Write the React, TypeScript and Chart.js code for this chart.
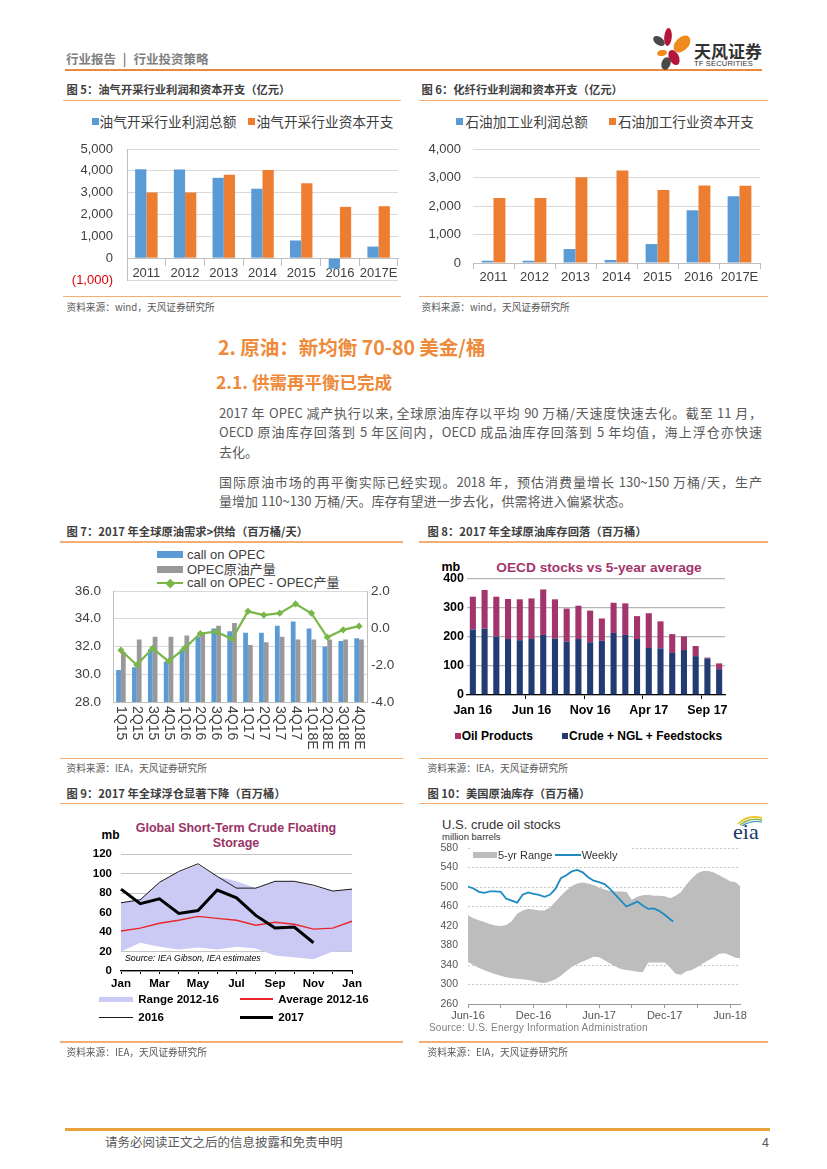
import React, { useEffect, useRef } from 'react';
import { Chart, registerables } from 'chart.js';
Chart.register(...registerables);

const FONT = "'Liberation Sans', 'Noto Sans CJK SC', sans-serif";
const CJK = "'Noto Sans CJK SC', 'Liberation Sans', sans-serif";
Chart.defaults.font.family = FONT;

// ---------- Fig 5 ----------
const years = ['2011', '2012', '2013', '2014', '2015', '2016', '2017E'];
const fig5Legend = ['油气开采行业利润总额', '油气开采行业资本开支'];
const fig5Profit = [4070, 4060, 3680, 3180, 810, -480, 530];
const fig5Capex = [3010, 3010, 3820, 4040, 3430, 2350, 2380];

// ---------- Fig 6 ----------
const fig6Legend = ['石油加工业利润总额', '石油加工行业资本开支'];
const fig6Profit = [80, 80, 490, 105, 665, 1850, 2340];
const fig6Capex = [2280, 2280, 3010, 3250, 2560, 2715, 2710];

// ---------- Fig 7 ----------
const quarters = ['1Q15', '2Q15', '3Q15', '4Q15', '1Q16', '2Q16', '3Q16', '4Q16', '1Q17', '2Q17', '3Q17', '4Q17', '1Q18E', '2Q18E', '3Q18E', '4Q18E'];
const fig7Legend = ['call on OPEC', 'OPEC原油产量', 'call on OPEC - OPEC产量'];
const callOnOpec = [30.3, 30.5, 31.8, 30.9, 31.8, 32.7, 33.3, 33.1, 33.0, 33.0, 33.5, 33.8, 33.3, 32.0, 32.4, 32.6];
const opecOutput = [31.6, 32.5, 32.7, 32.7, 32.8, 32.9, 33.5, 33.7, 32.1, 32.3, 32.7, 32.5, 32.5, 32.5, 32.5, 32.5];
const callMinusOutput = [-1.2, -2.0, -1.1, -1.8, -1.1, -0.3, -0.2, -0.6, 0.9, 0.7, 0.8, 1.3, 0.8, -0.5, -0.1, 0.1];

// ---------- Fig 8 ----------
const months8 = ['Jan 16', 'Feb 16', 'Mar 16', 'Apr 16', 'May 16', 'Jun 16', 'Jul 16', 'Aug 16', 'Sep 16', 'Oct 16', 'Nov 16', 'Dec 16',
  'Jan 17', 'Feb 17', 'Mar 17', 'Apr 17', 'May 17', 'Jun 17', 'Jul 17', 'Aug 17', 'Sep 17', 'Oct 17'];
const fig8Legend = ['Oil Products', 'Crude + NGL + Feedstocks'];
const crude8 = [226, 229, 201, 193, 189, 193, 207, 195, 184, 193, 182, 187, 214, 207, 193, 162, 161, 145, 155, 134, 126, 89];
const products8 = [113, 133, 138, 138, 141, 140, 157, 135, 114, 115, 109, 77, 104, 109, 79, 120, 93, 65, 47, 35, 3, 20];

// ---------- Fig 9 ----------
const months9 = ['Jan', 'Feb', 'Mar', 'Apr', 'May', 'Jun', 'Jul', 'Aug', 'Sep', 'Oct', 'Nov', 'Dec', 'Jan'];
const fig9Legend = ['Range 2012-16', 'Average 2012-16', '2016', '2017'];
const rangeHigh9 = [70, 74, 91, 101, 109, 97, 92, 85, 92, 92, 87, 82, 84];
const rangeLow9 = [20, 29, 25, 22, 24, 22, 25, 23, 16, 14, 12, 20, 20];
const average9 = [41, 44, 49, 52, 56, 54, 52, 47, 50, 48, 43, 44, 51];
const y2016 = [70, 73, 91, 102, 110, 97, 85, 85, 92, 92, 88, 82, 84];
const y2017 = [84, 69, 74, 59, 62, 83, 75, 57, 44, 45, 29];

// ---------- Fig 10 ----------
const x10TickLabels = ['Jun-16', 'Dec-16', 'Jun-17', 'Dec-17', 'Jun-18'];
const fig10Legend = ['5-yr Range', 'Weekly'];
// months after Jun-16
const x10 = [0, 0.5, 1, 1.5, 2, 2.5, 3, 3.5, 4, 4.5, 5, 5.5, 6, 6.5, 7, 7.5, 8, 8.5, 9, 9.5, 10, 10.5, 11, 11.5, 12, 12.5,
  13, 13.5, 14, 14.5, 15, 15.5, 16, 16.5, 17, 17.5, 18, 18.5, 19, 19.5, 20, 20.5, 21, 21.5, 22, 22.5, 23, 23.5, 24, 24.5, 24.9];
const rangeHigh10 = [442, 436, 432, 428, 424, 421, 420, 422, 430, 445, 452, 455, 454, 452, 452, 458, 470, 482, 493, 502,
  507, 509, 507, 504, 499, 495, 492, 491, 491, 490, 474, 480, 483, 484, 482, 482, 481, 477, 482, 490,
  505, 518, 528, 533, 533, 530, 524, 518, 512, 510, 502];
const rangeLow10 = [346, 340, 334, 329, 325, 321, 318, 315, 313, 312, 311, 309, 307, 304, 303, 306, 311, 318, 327, 336,
  342, 347, 352, 357, 356, 350, 343, 337, 332, 330, 328, 326, 325, 345, 345, 345, 345, 335, 322, 320,
  327, 330, 336, 343, 350, 356, 363, 364, 360, 355, 354];
const weeklyX10 = [0, 0.5, 1, 1.5, 2, 2.5, 3, 3.5, 4, 4.5, 5, 5.5, 6, 6.5, 7, 7.5, 8, 8.5, 9, 9.5, 10, 10.5, 11, 11.5, 12,
  12.5, 13, 13.5, 14, 14.5, 15, 15.5, 16, 16.5, 17, 17.5, 18, 18.5, 18.8];
const weekly10 = [501, 497, 490, 488, 491, 491, 490, 476, 472, 468, 484, 489, 486, 484, 480, 484, 496, 518, 524, 532,
  535, 530, 520, 513, 510, 506, 496, 484, 472, 460, 465, 470, 462, 455, 456, 451, 443, 434, 429];

// ---------- helpers ----------
const base = (padding: any) => ({
  animation: false,
  responsive: false,
  maintainAspectRatio: false,
  events: [],
  layout: { padding, autoPadding: false },
  plugins: { legend: { display: false }, tooltip: { enabled: false }, title: { display: false } },
});

// fix an axis size and drop the automatic label overhang padding
const fixW = (w: number) => (s: any) => { s.width = w; s.paddingTop = 0; s.paddingBottom = 0; };
const fixH = (h: number) => (s: any) => { s.height = h; s.paddingLeft = 0; s.paddingRight = 0; };
const noPadX = (s: any) => { s.paddingLeft = 0; s.paddingRight = 0; };

function ChartCanvas({ x, y, w, h, make }: { x: number; y: number; w: number; h: number; make: () => any }) {
  const ref = useRef<HTMLCanvasElement | null>(null);
  useEffect(() => {
    if (!ref.current) return;
    const chart = new Chart(ref.current, make());
    return () => chart.destroy();
  }, []);
  return <canvas ref={ref} width={w} height={h} style={{ position: 'absolute', left: x, top: y, width: w, height: h }} />;
}

function T({ x, y, s, c = '#404040', w = 'normal', f = CJK, children, style = {} }: any) {
  const lh = Math.round(s * 1.5);
  return (
    <div style={{ position: 'absolute', left: x, top: y - lh / 2, fontSize: s, lineHeight: lh + 'px', color: c, fontWeight: w, fontFamily: f, whiteSpace: 'nowrap', ...style }}>
      {children}
    </div>
  );
}
function HL({ x1, x2, y, c, t = 1 }: any) {
  return <div style={{ position: 'absolute', left: x1, top: y - t / 2, width: x2 - x1, height: t, background: c }} />;
}
function Box({ x, y, w, h, c }: any) {
  return <div style={{ position: 'absolute', left: x, top: y - h / 2, width: w, height: h, background: c }} />;
}

const fmtThousands = (v: number) => {
  const s = Math.abs(v).toLocaleString('en-US');
  return v < 0 ? `(${s})` : s;
};

// ---------- chart configs ----------
const makeFig5 = () => ({
  type: 'bar',
  data: {
    labels: years,
    datasets: [
      { label: fig5Legend[0], data: fig5Profit, backgroundColor: '#5B9BD5', categoryPercentage: 0.58, barPercentage: 1 },
      { label: fig5Legend[1], data: fig5Capex, backgroundColor: '#ED7D31', categoryPercentage: 0.58, barPercentage: 1 },
    ],
  },
  options: {
    ...base({ top: 9, right: 7, bottom: 8, left: 0 }),
    scales: {
      x: {
        position: { y: 0 },
        grid: { drawOnChartArea: false, drawTicks: true, tickLength: 7, color: '#BFBFBF', offset: true },
        border: { color: '#BFBFBF' },
        ticks: { font: { size: 13 }, color: '#404040', padding: 0, maxRotation: 0, autoSkip: false },
        afterFit: noPadX,
      },
      y: {
        min: -1000, max: 5000,
        ticks: {
          stepSize: 1000, padding: 14, font: { size: 13 },
          color: (ctx: any) => (ctx.tick && ctx.tick.value < 0 ? '#E00000' : '#404040'),
          callback: (v: any) => fmtThousands(Number(v)),
        },
        grid: { color: '#D9D9D9', drawTicks: false },
        border: { color: '#BFBFBF' },
        afterFit: fixW(62),
      },
    },
  },
});

const makeFig6 = () => ({
  type: 'bar',
  data: {
    labels: years,
    datasets: [
      { label: fig6Legend[0], data: fig6Profit, backgroundColor: '#5B9BD5', categoryPercentage: 0.58, barPercentage: 1 },
      { label: fig6Legend[1], data: fig6Capex, backgroundColor: '#ED7D31', categoryPercentage: 0.58, barPercentage: 1 },
    ],
  },
  options: {
    ...base({ top: 9, right: 5, bottom: 0, left: 0 }),
    scales: {
      x: {
        grid: { drawOnChartArea: false, drawTicks: true, tickLength: 6, color: '#BFBFBF', offset: true },
        border: { color: '#BFBFBF' },
        ticks: { font: { size: 13 }, color: '#404040', padding: 1, maxRotation: 0, autoSkip: false },
        afterFit: fixH(30),
      },
      y: {
        min: 0, max: 4000,
        ticks: { stepSize: 1000, padding: 12, font: { size: 13 }, color: '#404040', callback: (v: any) => fmtThousands(Number(v)) },
        grid: { color: '#D9D9D9', drawTicks: false },
        border: { display: false },
        afterFit: fixW(53),
      },
    },
  },
});

const rotLabels7 = {
  id: 'rotLabels7',
  afterDraw(chart: any) {
    const { ctx, chartArea } = chart;
    const xs = chart.scales.x;
    ctx.save();
    ctx.font = `14px ${FONT}`;
    ctx.fillStyle = '#404040';
    ctx.textAlign = 'left';
    ctx.textBaseline = 'middle';
    quarters.forEach((q, i) => {
      const px = xs.getPixelForValue(i);
      ctx.save();
      ctx.translate(px, chartArea.bottom + 4);
      ctx.rotate(Math.PI / 2);
      ctx.fillText(q, 0, 0);
      ctx.restore();
    });
    ctx.restore();
  },
};

const makeFig7 = () => ({
  type: 'bar',
  data: {
    labels: quarters,
    datasets: [
      { type: 'line', label: fig7Legend[2], data: callMinusOutput, yAxisID: 'y2', borderColor: '#7AB648', backgroundColor: '#7AB648', borderWidth: 2.2, pointStyle: 'rectRot', pointRadius: 3.6, pointBackgroundColor: '#7AB648', pointBorderWidth: 0, order: 0 },
      { label: fig7Legend[0], data: callOnOpec, yAxisID: 'y', backgroundColor: '#5B9BD5', categoryPercentage: 0.6, barPercentage: 1, order: 1 },
      { label: fig7Legend[1], data: opecOutput, yAxisID: 'y', backgroundColor: '#999999', categoryPercentage: 0.6, barPercentage: 1, order: 1 },
    ],
  },
  plugins: [rotLabels7],
  options: {
    ...base({ top: 10, right: 0, bottom: 0, left: 0 }),
    scales: {
      x: {
        grid: { drawOnChartArea: false, drawTicks: false },
        border: { color: '#BFBFBF' },
        ticks: { display: false },
        afterFit: fixH(48),
      },
      y: {
        position: 'left', min: 28, max: 36,
        ticks: { stepSize: 2, padding: 12, font: { size: 13.5 }, color: '#404040', callback: (v: any) => Number(v).toFixed(1) },
        grid: { color: '#D9D9D9', drawTicks: false },
        border: { color: '#BFBFBF' },
        afterFit: fixW(53),
      },
      y2: {
        position: 'right', min: -4, max: 2,
        ticks: { stepSize: 2, padding: 4, font: { size: 13.5 }, color: '#404040', callback: (v: any) => Number(v).toFixed(1) },
        grid: { drawOnChartArea: false, drawTicks: false },
        border: { color: '#BFBFBF' },
        afterFit: fixW(33),
      },
    },
  },
});

const makeFig8 = () => ({
  type: 'bar',
  data: {
    labels: months8,
    datasets: [
      { label: fig8Legend[1], data: crude8, backgroundColor: '#233B73', categoryPercentage: 0.52, barPercentage: 1 },
      { label: fig8Legend[0], data: products8, backgroundColor: '#A3356C', categoryPercentage: 0.52, barPercentage: 1 },
    ],
  },
  options: {
    ...base({ top: 9, right: 5, bottom: 0, left: 0 }),
    scales: {
      x: {
        stacked: true,
        grid: {
          drawOnChartArea: false, drawTicks: true, tickLength: 4, offset: true,
          color: (ctx: any) => (ctx.index % 5 === 0 && ctx.index > 0 ? '#000' : 'rgba(0,0,0,0)'),
        },
        border: { color: '#000', width: 1.3 },
        ticks: {
          autoSkip: false, maxRotation: 0, padding: 4, font: { size: 12.5, weight: 'bold' }, color: '#000',
          callback: function (this: any, v: any, i: number) { return i % 5 === 0 ? months8[i] : ''; },
        },
        afterFit: fixH(25),
      },
      y: {
        stacked: true, min: 0, max: 400,
        ticks: { stepSize: 100, padding: 3, font: { size: 12.5, weight: 'bold' }, color: '#000' },
        grid: { color: '#B5B5B5', lineWidth: 1.3, drawTicks: false },
        border: { display: false },
        afterFit: fixW(42),
      },
    },
  },
});

const makeFig9 = () => ({
  type: 'line',
  data: {
    labels: months9,
    datasets: [
      { label: fig9Legend[0], data: rangeHigh9, borderWidth: 0, pointRadius: 0, fill: '+1', backgroundColor: '#CACAF4', borderColor: 'rgba(0,0,0,0)', tension: 0, order: 3 },
      { label: 'low', data: rangeLow9, borderWidth: 0, pointRadius: 0, fill: false, borderColor: 'rgba(0,0,0,0)', order: 3 },
      { label: fig9Legend[1], data: average9, borderWidth: 1.4, pointRadius: 0, borderColor: '#E8262A', fill: false, order: 2 },
      { label: fig9Legend[2], data: y2016, borderWidth: 1, pointRadius: 0, borderColor: '#1A1A1A', fill: false, order: 1 },
      { label: fig9Legend[3], data: y2017, borderWidth: 3, pointRadius: 0, borderColor: '#000', fill: false, order: 0 },
    ],
  },
  options: {
    ...base({ top: 8, right: 13, bottom: 0, left: 0 }),
    scales: {
      x: {
        offset: false,
        grid: { drawOnChartArea: false, drawTicks: true, tickLength: 3, color: '#000' },
        border: { color: '#000', width: 1.2 },
        ticks: {
          autoSkip: false, maxRotation: 0, padding: 3, font: { size: 11.5, weight: 'bold' }, color: '#000',
          callback: function (this: any, v: any, i: number) { return i % 2 === 0 ? months9[i] : ''; },
        },
        afterFit: fixH(22),
      },
      y: {
        min: 0, max: 120,
        ticks: { stepSize: 20, padding: 9, font: { size: 11.5, weight: 'bold' }, color: '#000' },
        grid: { color: '#C4C4C4', drawTicks: false },
        border: { display: false },
        afterFit: fixW(53),
      },
    },
  },
});

const makeFig10 = () => ({
  type: 'line',
  data: {
    datasets: [
      { label: fig10Legend[0], data: x10.map((x, i) => ({ x, y: rangeHigh10[i] })), borderWidth: 0, pointRadius: 0, fill: '+1', backgroundColor: '#BDBDBD', borderColor: 'rgba(0,0,0,0)', order: 2 },
      { label: 'low', data: x10.map((x, i) => ({ x, y: rangeLow10[i] })), borderWidth: 0, pointRadius: 0, fill: false, borderColor: 'rgba(0,0,0,0)', order: 2 },
      { label: fig10Legend[1], data: weeklyX10.map((x, i) => ({ x, y: weekly10[i] })), borderWidth: 1.8, pointRadius: 0, borderColor: '#1E8BC3', fill: false, order: 0 },
    ],
  },
  options: {
    ...base({ top: 8, right: 12, bottom: 0, left: 0 }),
    scales: {
      x: {
        type: 'linear', min: 0, max: 24.9,
        grid: { drawOnChartArea: false, drawTicks: true, tickLength: 4, color: '#999' },
        border: { color: '#999' },
        ticks: {
          stepSize: 3, includeBounds: false, autoSkip: false, maxRotation: 0, padding: 1, font: { size: 11 }, color: '#555',
          callback: (v: any) => { const n = Number(v); return Math.abs(n % 6) < 1e-6 ? x10TickLabels[Math.round(n / 6)] || '' : ''; },
        },
        afterFit: fixH(20),
      },
      y: {
        min: 260, max: 580,
        ticks: { stepSize: 40, padding: 10, font: { size: 10.5 }, color: '#555' },
        grid: { color: '#C8C8C8', drawTicks: false },
        border: { display: false, dash: [2, 2] },
        afterFit: fixW(43),
      },
    },
  },
});

// ---------- page ----------
const ORANGE_LINE = '#F2AE74';
const SRC_C = '#595959';

export default function App() {
  return (
    <div style={{ position: 'absolute', left: 0, top: 0, width: 827, height: 1169, background: '#fff', overflow: 'hidden', fontFamily: CJK }}>
      {/* header */}
      <T x={66} y={58.5} s={12.5} c="#7F7F7F" w="bold" style={{ wordSpacing: 4 }}>行业报告 | 行业投资策略</T>
      <HL x1={65} x2={762} y={69.5} c="#E9893B" t={2} />
      <svg style={{ position: 'absolute', left: 645, top: 24 }} width={50} height={50} viewBox="645 24 50 50">
        <ellipse cx={659} cy={41} rx={6.5} ry={4} transform="rotate(35 659 41)" fill="#4A4A4A" />
        <ellipse cx={668} cy={37} rx={3.8} ry={9} transform="rotate(5 668 37)" fill="#B5173B" />
        <ellipse cx={682} cy={44} rx={10} ry={6.5} transform="rotate(-45 682 44)" fill="#F08A1C" />
        <ellipse cx={662} cy={53} rx={5} ry={3} transform="rotate(-10 662 53)" fill="#F08A1C" />
        <ellipse cx={674} cy={57.5} rx={5} ry={8} transform="rotate(-25 674 57.5)" fill="#B5173B" />
        <ellipse cx={666} cy={63.5} rx={4.5} ry={6.5} transform="rotate(20 666 63.5)" fill="#4A4A4A" />
      </svg>
      <T x={694} y={51} s={17} c="#333" w="bold">天风证券</T>
      <T x={694} y={63.5} s={7.5} c="#333" f={FONT} style={{ letterSpacing: 0.2 }}>TF SECURITIES</T>

      {/* Fig 5 */}
      <T x={66.5} y={89.7} s={11.3} w="bold">图 5：油气开采行业利润和资本开支（亿元）</T>
      <HL x1={63} x2={401} y={100.7} c={ORANGE_LINE} t={1.5} />
      <Box x={91.7} y={121.3} w={7} h={7} c="#5B9BD5" />
      <T x={99.5} y={121.3} s={13.7} c="#404040">{fig5Legend[0]}</T>
      <Box x={248} y={121.3} w={7} h={7} c="#ED7D31" />
      <T x={256.5} y={121.3} s={13.7} c="#404040">{fig5Legend[1]}</T>
      <ChartCanvas x={65} y={140} w={340} h={148} make={makeFig5} />
      <HL x1={63} x2={401} y={296.3} c={ORANGE_LINE} t={1.5} />
      <T x={66.5} y={307.3} s={9.7} c={SRC_C}>资料来源：wind，天风证券研究所</T>

      {/* Fig 6 */}
      <T x={421.5} y={89.7} s={11.3} w="bold">图 6：化纤行业利润和资本开支（亿元）</T>
      <HL x1={419} x2={768} y={100.7} c={ORANGE_LINE} t={1.5} />
      <Box x={455.7} y={121.3} w={7} h={7} c="#5B9BD5" />
      <T x={465.5} y={121.3} s={13.6} c="#404040">{fig6Legend[0]}</T>
      <Box x={609} y={121.3} w={7} h={7} c="#ED7D31" />
      <T x={618} y={121.3} s={13.6} c="#404040">{fig6Legend[1]}</T>
      <ChartCanvas x={420} y={140} w={345} h={153} make={makeFig6} />
      <HL x1={419} x2={768} y={296.3} c={ORANGE_LINE} t={1.5} />
      <T x={421.5} y={307.3} s={9.7} c={SRC_C}>资料来源：wind，天风证券研究所</T>

      {/* Section text */}
      <T x={218} y={346} s={19.5} c="#EE8A3A" w="bold">2. 原油：新均衡 70-80 美金/桶</T>
      <T x={216} y={381.7} s={17.5} c="#EE8A3A" w="bold">2.1. 供需再平衡已完成</T>
      {[
        ['2017 年 OPEC 减产执行以来, 全球原油库存以平均 90 万桶/天速度快速去化。截至 11 月，', 413.3, true],
        ['OECD 原油库存回落到 5 年区间内，OECD 成品油库存回落到 5 年均值，海上浮仓亦快速', 432.3, true],
        ['去化。', 451.7, false],
        ['国际原油市场的再平衡实际已经实现。2018 年，预估消费量增长 130~150 万桶/天，生产', 481.7, true],
        ['量增加 110~130 万桶/天。库存有望进一步去化，供需将进入偏紧状态。', 500.5, false],
      ].map(([txt, cy, just], i) => (
        <div key={i} style={{
          position: 'absolute', left: 219, top: (cy as number) - 10, width: 543, height: 20, lineHeight: '20px',
          fontSize: 13, color: '#595959', fontFamily: CJK, whiteSpace: 'nowrap',
          textAlign: just ? 'justify' : 'left', textAlignLast: just ? 'justify' : 'left',
        } as any}>{txt as string}</div>
      ))}

      {/* Fig 7 */}
      <T x={66.5} y={531.3} s={11.3} w="bold">图 7：2017 年全球原油需求&gt;供给（百万桶/天）</T>
      <HL x1={60} x2={403} y={542} c={ORANGE_LINE} t={1.5} />
      <Box x={157} y={554.7} w={26} h={7} c="#5B9BD5" />
      <T x={187} y={554.7} s={13} c="#404040" f={FONT}>{fig7Legend[0]}</T>
      <Box x={157} y={569.7} w={26} h={7} c="#999999" />
      <T x={187} y={569.7} s={13} c="#404040" f={FONT}>{fig7Legend[1]}</T>
      <Box x={157} y={583.3} w={26} h={2.2} c="#7AB648" />
      <div style={{ position: 'absolute', left: 170 - 3.3, top: 583.3 - 3.3, width: 6.6, height: 6.6, background: '#7AB648', transform: 'rotate(45deg)' }} />
      <T x={187} y={583.3} s={13} c="#404040" f={FONT}>{fig7Legend[2]}</T>
      <ChartCanvas x={60} y={581} w={340} h={169} make={makeFig7} />
      <HL x1={60} x2={403} y={758.7} c={ORANGE_LINE} t={1.5} />
      <T x={66.5} y={768.7} s={9.7} c={SRC_C}>资料来源：IEA，天风证券研究所</T>

      {/* Fig 8 */}
      <T x={427.5} y={531.3} s={11.3} w="bold">图 8：2017 年全球原油库存回落（百万桶）</T>
      <HL x1={419} x2={768} y={542} c={ORANGE_LINE} t={1.5} />
      <T x={441.5} y={567.3} s={12.5} c="#000" w="bold" f={FONT}>mb</T>
      <T x={599} y={567.3} s={13.7} c="#A3356C" w="bold" f={FONT} style={{ transform: 'translateX(-50%)' }}>OECD stocks vs 5-year average</T>
      <ChartCanvas x={425} y={570} w={305} h={150} make={makeFig8} />
      <Box x={455} y={736} w={6} h={6} c="#A3356C" />
      <T x={461.7} y={736} s={12} c="#000" w="bold" f={FONT}>{fig8Legend[0]}</T>
      <Box x={561.7} y={736} w={6} h={6} c="#233B73" />
      <T x={569} y={736} s={12} c="#000" w="bold" f={FONT}>{fig8Legend[1]}</T>
      <HL x1={419} x2={768} y={758.7} c={ORANGE_LINE} t={1.5} />
      <T x={427.5} y={768.7} s={9.7} c={SRC_C}>资料来源：IEA，天风证券研究所</T>

      {/* Fig 9 */}
      <T x={66.5} y={793} s={11.3} w="bold">图 9：2017 年全球浮仓显著下降（百万桶）</T>
      <HL x1={60} x2={403} y={803.7} c={ORANGE_LINE} t={1.5} />
      <T x={236} y={828.7} s={12.5} c="#993366" w="bold" f={FONT} style={{ transform: 'translateX(-50%)' }}>Global Short-Term Crude Floating</T>
      <T x={236} y={843.7} s={12.5} c="#993366" w="bold" f={FONT} style={{ transform: 'translateX(-50%)' }}>Storage</T>
      <T x={101.5} y={835.3} s={12} c="#000" w="bold" f={FONT}>mb</T>
      <ChartCanvas x={68} y={846} w={297} h={147} make={makeFig9} />
      <T x={125} y={958} s={8.8} c="#000" f={FONT} style={{ fontStyle: 'italic' }}>Source: IEA Gibson, IEA estimates</T>
      <Box x={99.3} y={999.3} w={34} h={5} c="#CACAF4" />
      <T x={138.3} y={999.3} s={11.5} c="#000" w="bold" f={FONT}>{fig9Legend[0]}</T>
      <Box x={240} y={999} w={33.3} h={2} c="#E8262A" />
      <T x={278.3} y={999.3} s={11.5} c="#000" w="bold" f={FONT}>{fig9Legend[1]}</T>
      <Box x={99.3} y={1017} w={34} h={1} c="#1A1A1A" />
      <T x={138.3} y={1017} s={11.5} c="#000" w="bold" f={FONT}>{fig9Legend[2]}</T>
      <Box x={240} y={1017} w={33.3} h={3} c="#000" />
      <T x={278.3} y={1017} s={11.5} c="#000" w="bold" f={FONT}>{fig9Legend[3]}</T>
      <HL x1={60} x2={403} y={1042} c={ORANGE_LINE} t={1.5} />
      <T x={66.5} y={1052.3} s={9.7} c={SRC_C}>资料来源：IEA，天风证券研究所</T>

      {/* Fig 10 */}
      <T x={427.5} y={793} s={11.3} w="bold">图 10：美国原油库存（百万桶）</T>
      <HL x1={419} x2={768} y={803.7} c={ORANGE_LINE} t={1.5} />
      <T x={442} y={825} s={13} c="#333" f={FONT}>U.S. crude oil stocks</T>
      <T x={442} y={836.5} s={9.5} c="#333" f={FONT}>million barrels</T>
      <svg style={{ position: 'absolute', left: 730, top: 812 }} width={34} height={14} viewBox="0 0 34 14">
        <path d="M8 12 Q18 2 32 6" stroke="#F2C21B" strokeWidth={1.6} fill="none" />
        <path d="M10 13 Q19 5 32 8" stroke="#7DB93A" strokeWidth={1.4} fill="none" />
        <path d="M12 14 Q20 8 32 10" stroke="#2A86C8" strokeWidth={1.2} fill="none" />
      </svg>
      <T x={733} y={831} s={22} c="#1B3A66" f="'Liberation Serif', 'DejaVu Serif', serif">eia</T>
      <ChartCanvas x={425} y={840} w={327} h={184} make={makeFig10} />
      <div style={{ position: 'absolute', left: 472, top: 847, width: 160, height: 16, background: '#fff' }} />
      <Box x={473} y={855.3} w={24} h={6} c="#BDBDBD" />
      <T x={498} y={855.3} s={11} c="#333" f={FONT}>{fig10Legend[0]}</T>
      <Box x={555} y={855.3} w={25.7} h={1.8} c="#1E8BC3" />
      <T x={581.7} y={855.3} s={11} c="#333" f={FONT}>{fig10Legend[1]}</T>
      <T x={429} y={1027} s={10} c="#7F7F7F" f={FONT} style={{ letterSpacing: 0.2 }}>Source: U.S. Energy Information Administration</T>
      <HL x1={419} x2={768} y={1042} c={ORANGE_LINE} t={1.5} />
      <T x={427.5} y={1052.3} s={9.7} c={SRC_C}>资料来源：EIA，天风证券研究所</T>

      {/* footer */}
      <HL x1={65} x2={770} y={1129.5} c="#E8A33A" t={2.5} />
      <T x={105} y={1141} s={12.5} c="#595959">请务必阅读正文之后的信息披露和免责申明</T>
      <T x={762} y={1141} s={12.5} c="#595959">4</T>
    </div>
  );
}
